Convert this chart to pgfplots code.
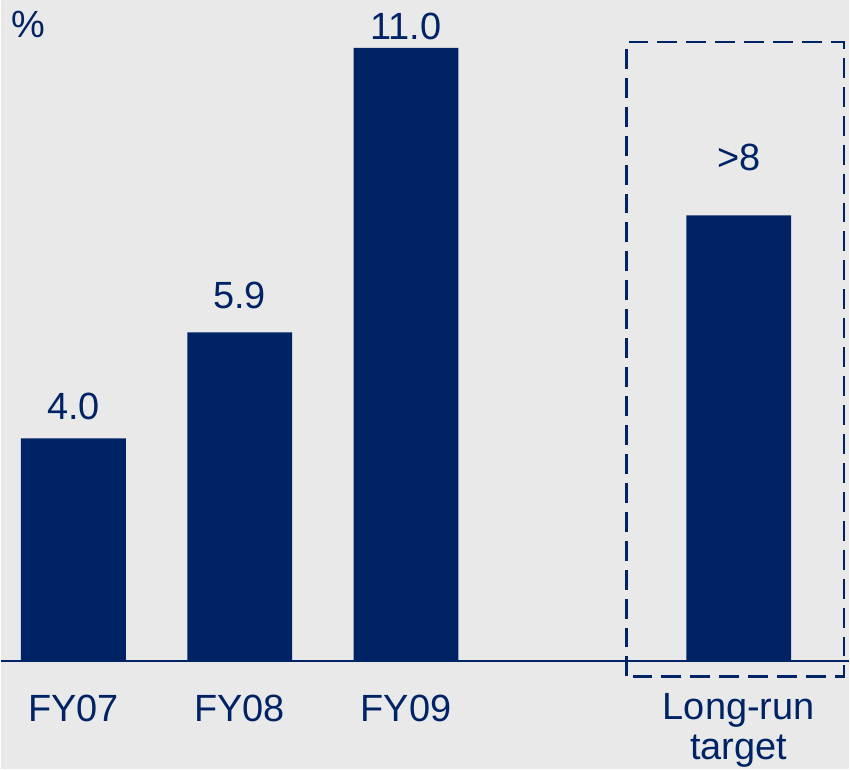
\documentclass[border=0pt]{standalone}
\usepackage{pgfplots}
\pgfplotsset{compat=1.18}
\usepackage{fontspec}
\setmainfont{Liberation Sans}
\definecolor{navy}{RGB}{0,35,102}
\definecolor{bg}{RGB}{233,233,233}
\begin{document}
\begin{tikzpicture}[x=1pt,y=1pt]
\fill[bg] (0,-108) rectangle (850,663);
\begin{axis}[at={(0,0)},anchor=south west, scale only axis,
  width=850pt, height=663pt, xmin=-0.435, xmax=4.663, ymin=0, ymax=11.86,
  hide axis, clip=false, ybar, bar width=0.63]
\addplot[fill=navy, draw=none] coordinates {(0,4.0) (1,5.9) (2,11.0) (4,8.0)};
\draw[navy, line width=2pt] (rel axis cs:0,0) -- (rel axis cs:1,0);
\begin{scope}[every node/.style={text=navy, font=\fontsize{38}{40}\selectfont, inner sep=0pt}]
\node at (axis cs:0,4.58) {4.0};
\node at (axis cs:1,6.57) {5.9};
\node at (axis cs:2,11.38) {11.0};
\node at (axis cs:4,9.03) {>8};
\node at (axis cs:0,-0.84) {FY07};
\node at (axis cs:1,-0.84) {FY08};
\node at (axis cs:2,-0.84) {FY09};
\node[align=center] at (axis cs:4,-1.24) {Long-run\\target};
\end{scope}
\end{axis}
\node[text=navy, font=\fontsize{38}{40}\selectfont, inner sep=0pt] at (27,638) {\%};
\draw[navy, line width=2.5pt, dash pattern=on 20pt off 9pt] (627,-15) rectangle (845,621);
\end{tikzpicture}
\end{document}
